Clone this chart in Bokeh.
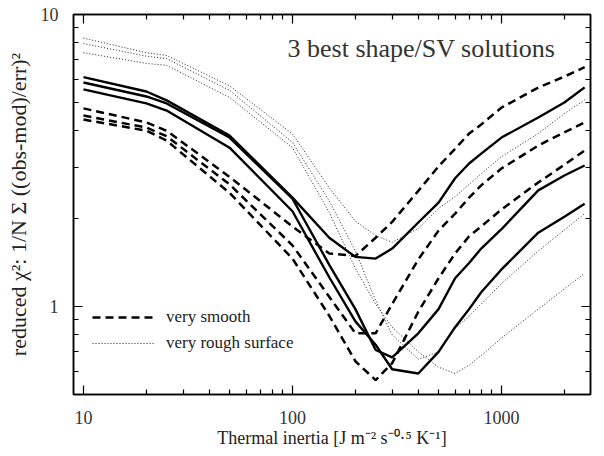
from bokeh.plotting import figure
from bokeh.models import Range1d, FixedTicker, LogAxis, Label, Legend, LegendItem
from bokeh.embed import file_html
from bokeh.resources import INLINE

# ---- data ----
inertia = [10, 20, 25, 50, 100, 150, 200, 250, 300, 400, 500, 600, 700, 800, 1000, 1500, 2000, 2500]

solid_1 = [6.10, 5.45, 5.08, 3.85, 2.36, 1.72, 1.48, 1.46, 1.58, 1.94, 2.27, 2.75, 3.09, 3.34, 3.79, 4.44, 5.00, 5.63]
solid_2 = [5.85, 5.24, 4.96, 3.79, 2.34, 1.39, 0.98, 0.71, 0.67, 0.81, 0.98, 1.25, 1.41, 1.58, 1.84, 2.50, 2.81, 3.04]
solid_3 = [5.54, 4.96, 4.69, 3.50, 2.12, 1.26, 0.89, 0.74, 0.61, 0.59, 0.70, 0.85, 0.98, 1.12, 1.34, 1.79, 2.03, 2.25]

smooth_1 = [4.77, 4.27, 4.00, 2.78, 1.88, 1.52, 1.49, 1.72, 1.95, 2.49, 3.02, 3.47, 3.91, 4.20, 4.80, 5.62, 6.13, 6.60]
smooth_2 = [4.51, 4.10, 3.83, 2.62, 1.62, 1.08, 0.81, 0.81, 1.02, 1.45, 1.82, 2.08, 2.36, 2.60, 2.97, 3.56, 3.95, 4.27]
smooth_3 = [4.37, 4.00, 3.70, 2.45, 1.46, 0.93, 0.65, 0.56, 0.64, 0.96, 1.25, 1.52, 1.74, 1.88, 2.15, 2.66, 3.06, 3.42]

rough_1 = [8.30, 7.40, 7.24, 5.70, 3.90, 2.55, 1.96, 1.75, 1.66, 1.85, 2.17, 2.38, 2.62, 2.85, 3.26, 3.91, 4.58, 5.10]
rough_2 = [7.95, 7.20, 7.06, 5.50, 3.65, 2.30, 1.55, 1.05, 0.80, 0.66, 0.70, 0.84, 0.93, 1.02, 1.20, 1.55, 1.83, 2.08]
rough_3 = [7.40, 6.80, 6.70, 5.20, 3.50, 2.10, 1.35, 1.02, 0.85, 0.70, 0.62, 0.59, 0.63, 0.68, 0.78, 0.98, 1.15, 1.30]

x_major = [10, 100, 1000]
x_minor = [20, 30, 40, 50, 60, 70, 80, 90, 200, 300, 400, 500, 600, 700, 800, 900, 2000]
x_labels = {10: "10", 100: "100", 1000: "1000"}
y_major = [1, 10]
y_minor = [0.6, 0.7, 0.8, 0.9, 2, 3, 4, 5, 6, 7, 8, 9]
y_labels = {1: "1", 10: "10"}

title_text = "3 best shape/SV solutions"
x_title = "Thermal inertia [J m\u207b\u00b2 s\u207b\u2070\u00b7\u2075 K\u207b\u00b9]"
y_title = "reduced \u03c7\u00b2: 1/N \u03a3 ((obs-mod)/err)\u00b2"
legend_labels = ["very smooth", "very rough surface"]

FONT = "Liberation Serif"

p = figure(width=600, height=454, x_axis_type="log", y_axis_type="log",
           x_range=Range1d(8.96, 2667), y_range=Range1d(0.5, 10),
           output_backend="svg", toolbar_location=None,
           min_border_left=73, min_border_right=10, min_border_top=14, min_border_bottom=60)
p.grid.visible = False
p.outline_line_color = "black"
p.outline_line_width = 1.5
p.background_fill_color = "white"
p.border_fill_color = "white"


def style(ax, ticks, minor, labels, show):
    ax.ticker = FixedTicker(ticks=ticks, minor_ticks=minor)
    ax.major_tick_in = 9
    ax.major_tick_out = 0
    ax.minor_tick_in = 5
    ax.minor_tick_out = 0
    ax.major_tick_line_width = 1.2
    ax.minor_tick_line_width = 1.2
    ax.axis_line_width = 1.5
    ax.major_label_text_font = FONT
    ax.axis_label_text_font = FONT
    ax.axis_label_text_font_style = "normal"
    ax.major_label_text_color = "#333333"
    ax.axis_label_text_color = "#222222"
    ax.major_label_overrides = labels
    if show:
        ax.major_label_text_font_size = "18px"
        ax.axis_label_text_font_size = "18px"
    else:
        ax.major_label_text_font_size = "1px"
        ax.major_label_text_alpha = 0
        ax.major_label_standoff = 0


xb = p.xaxis[0]
yl = p.yaxis[0]
style(xb, x_major, x_minor, x_labels, True)
style(yl, y_major, y_minor, y_labels, True)
xb.axis_label = x_title
yl.axis_label = y_title
yl.axis_label_text_font_size = "22px"
xb.major_label_standoff = 16
xb.axis_label_standoff = 1
yl.major_label_standoff = 15
yl.axis_label_standoff = 7

xt = LogAxis()
style(xt, x_major, x_minor, x_labels, False)
p.add_layout(xt, "above")
yr = LogAxis()
style(yr, y_major, y_minor, y_labels, False)
p.add_layout(yr, "right")

r_s = []
for ys in (solid_1, solid_2, solid_3):
    r_s.append(p.line(inertia, ys, line_color="black", line_width=2.4))
r_d = []
for ys in (smooth_1, smooth_2, smooth_3):
    r_d.append(p.line(inertia, ys, line_color="black", line_width=2.5, line_dash="8 5"))
r_t = []
for ys in (rough_1, rough_2, rough_3):
    r_t.append(p.line(inertia, ys, line_color="#222222", line_width=1, line_dash="1 2"))

legend = Legend(items=[LegendItem(label=legend_labels[0], renderers=[r_d[0]]),
                       LegendItem(label=legend_labels[1], renderers=[r_t[0]])],
                location=(19, 41), glyph_width=63, glyph_height=20, label_height=20,
                spacing=6, padding=0, margin=0, label_standoff=11,
                border_line_alpha=0, background_fill_alpha=0)
legend.label_text_font = FONT
legend.label_text_font_size = "17px"
legend.label_text_color = "#222222"
p.add_layout(legend, "center")

p.add_layout(Label(x=214, y=346, x_units="screen", y_units="screen", text=title_text,
                   text_font=FONT, text_font_size="26px", text_color="#333333",
                   text_baseline="alphabetic"))

open("out.html", "w").write(file_html(p, INLINE))
